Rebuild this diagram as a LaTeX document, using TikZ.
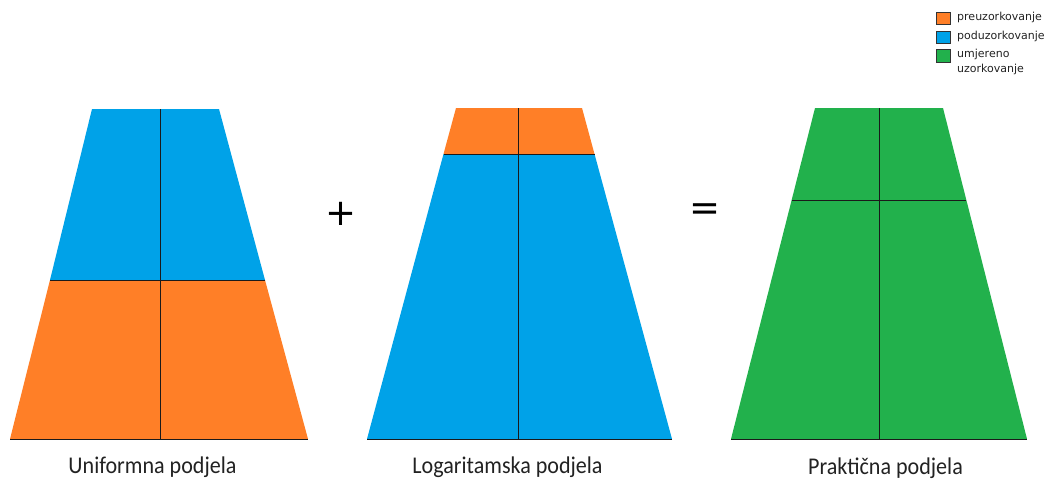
\documentclass[tikz,border=0pt]{standalone}
\usepackage{fontspec}
\setmainfont{Carlito}
\newfontfamily\legfont{DejaVu Sans}
\definecolor{porange}{HTML}{FF7F27}
\definecolor{pblue}{HTML}{00A2E8}
\definecolor{pgreen}{HTML}{22B14C}
\definecolor{pline}{HTML}{1A1A1A}
\definecolor{ptext}{HTML}{222222}
\tikzset{
  divline/.style={draw=pline, line width=1pt},
  lbl/.style={font=\fontsize{24}{28}\selectfont, text=ptext, inner sep=0pt, anchor=base, xscale=0.92},
  legbox/.style={draw=black!80, line width=0.7pt, minimum width=14pt, minimum height=12.5pt, inner sep=0pt},
  legtxt/.style={font=\legfont\fontsize{11}{15}\selectfont, text=ptext, anchor=west, inner sep=0pt, align=left},
  opsign/.style={font=\legfont\fontsize{37}{37}\selectfont, text=black, inner sep=0pt}
}
\begin{document}
\begin{tikzpicture}[x=1pt,y=-1pt]
\useasboundingbox (0,0) rectangle (1051,479);
% ---- trapezoid 1 : uniform
\fill[pblue] (92,109) -- (219,109) -- (265,280) -- (50,280) -- cycle;
\fill[porange] (50,280) -- (265,280) -- (308,439) -- (10,439) -- cycle;
\coordinate (a1) at (50,280); \coordinate (a2) at (265,280);
\coordinate (a3) at (160,109); \coordinate (a4) at (160,439);
\coordinate (a5) at (10,439); \coordinate (a6) at (308,439);
\draw[divline] (a1) -- (a2);
\draw[divline] (a3) -- (a4);
\draw[pline, line width=0.8pt] (a5) -- (a6);
% ---- trapezoid 2 : log
\fill[porange] (456,108) -- (582,108) -- (594.5,154) -- (443.5,154) -- cycle;
\fill[pblue] (443.5,154) -- (594.5,154) -- (672,439) -- (367,439) -- cycle;
\coordinate (b1) at (443.5,154); \coordinate (b2) at (594.5,154);
\coordinate (b3) at (518,108); \coordinate (b4) at (518,439);
\coordinate (b5) at (367,439); \coordinate (b6) at (672,439);
\draw[divline] (b1) -- (b2);
\draw[divline] (b3) -- (b4);
\draw[pline, line width=0.8pt] (b5) -- (b6);
% ---- trapezoid 3 : practical
\fill[pgreen] (815,108) -- (943,108) -- (1027,439) -- (731,439) -- cycle;
\coordinate (c1) at (792,200); \coordinate (c2) at (966,200);
\coordinate (c3) at (879,108); \coordinate (c4) at (879,439);
\coordinate (c5) at (731,439); \coordinate (c6) at (1027,439);
\draw[divline] (c1) -- (c2);
\draw[divline] (c3) -- (c4);
\draw[pline, line width=0.8pt] (c5) -- (c6);
% ---- operators
\node[opsign] (plus) at (341,214) {+};
\node[opsign] (eq) at (705,212) {=};
% ---- labels
\node[lbl] (l1) at (152.5,473) {Uniformna podjela};
\node[lbl] (l2) at (507.5,473) {Logaritamska podjela};
\node[lbl] (l3) at (885.5,474) {Praktična podjela};
% ---- legend
\node[legbox, fill=porange] (k1) at (943.5,18.5) {};
\node[legbox, fill=pblue] (k2) at (943.5,37.5) {};
\node[legbox, fill=pgreen] (k3) at (943.5,56) {};
\node[legtxt] (t1) at (957,17) {preuzorkovanje};
\node[legtxt] (t2) at (957,36) {poduzorkovanje};
\node[legtxt, anchor=north west] (t3) at (957,49) {umjereno\\uzorkovanje};
\end{tikzpicture}
\end{document}
